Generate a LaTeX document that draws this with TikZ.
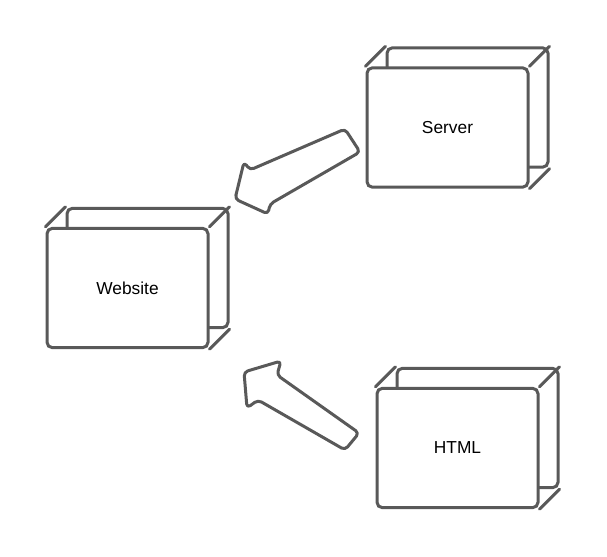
\documentclass[tikz,border=0pt]{standalone}
\usepackage{fontspec}
\setmainfont{Liberation Sans}
\definecolor{boxline}{HTML}{595959}

\begin{document}
\begin{tikzpicture}[x=0.75pt,y=-0.75pt,line width=2.25pt]
  \tikzstyle{back}=[draw=boxline,rounded corners=4pt,minimum width=120.75pt,minimum height=89.5pt]
  \tikzstyle{front}=[back,fill=white,font=\fontsize{13}{15}\selectfont]
  \tikzstyle{edge}=[draw=boxline,line cap=round]
  \tikzstyle{block}=[draw=boxline,rounded corners=3pt,line join=round]

  \useasboundingbox (0,0) rectangle (607,557);

  % back faces
  \node[back] (server back)  at (467.5,107.5) {};
  \node[back] (website back) at (147.5,268) {};
  \node[back] (html back)    at (477.5,428) {};

  % front faces
  \node[front] (server)  at (447.5,127.5) {Server};
  \node[front] (website) at (127.5,288) {Website};
  \node[front] (html)    at (457.5,448) {HTML};

  % depth edges
  \foreach \b in {server,website,html}
  {
    \draw[edge] (\b.north west) -- (\b\space back.north west);
    \draw[edge] (\b.north east) -- (\b\space back.north east);
    \draw[edge] (\b.south east) -- (\b\space back.south east);
  }

  % block arrows
  \draw[block] (235,199) -- (244,162) -- (250,170) -- (345,129)
    -- (360,152) -- (270,204) -- (268,214) -- cycle;
  \draw[block] (244,372) -- (281,361) -- (277,375) -- (359,433)
    -- (345,450) -- (258,400) -- (247,408) -- cycle;
\end{tikzpicture}
\end{document}
